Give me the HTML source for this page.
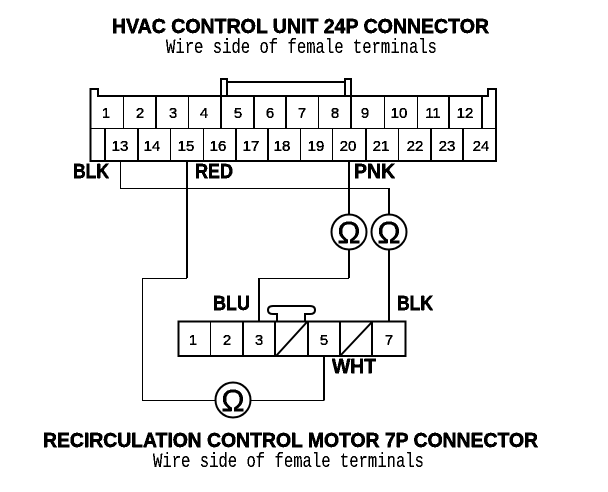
<!DOCTYPE html>
<html><head><meta charset="utf-8"><style>
html,body{margin:0;padding:0;background:#fff}
svg{display:block}
text{fill:#000}
.t{font:bold 20px "Liberation Sans",sans-serif;stroke:#000;stroke-width:.5px}
.s{font:20px "Liberation Mono",monospace}
.l{font:bold 20px "Liberation Sans",sans-serif;stroke:#000;stroke-width:.5px}
.n{font:15px "Liberation Sans",sans-serif;text-anchor:middle;stroke:#000;stroke-width:.25px}
.o{font:31px "Liberation Sans",sans-serif;text-anchor:middle;stroke:#000;stroke-width:.4px}
</style></head><body>
<svg width="608" height="492" viewBox="0 0 608 492" xmlns="http://www.w3.org/2000/svg">
<defs><filter id="b" x="0" y="0" width="100%" height="100%" color-interpolation-filters="sRGB"><feComponentTransfer><feFuncA type="discrete" tableValues="0 1 1"/></feComponentTransfer></filter></defs>
<rect width="608" height="492" fill="#fff"/>
<g filter="url(#b)">
<text class="t" x="112" y="33" textLength="377" lengthAdjust="spacingAndGlyphs">HVAC CONTROL UNIT 24P CONNECTOR</text>
<text class="s" x="166" y="53" textLength="271" lengthAdjust="spacingAndGlyphs">Wire side of female terminals</text>
<text class="t" x="43" y="447" textLength="495" lengthAdjust="spacingAndGlyphs">RECIRCULATION CONTROL MOTOR 7P CONNECTOR</text>
<text class="s" x="153" y="467" textLength="271" lengthAdjust="spacingAndGlyphs">Wire side of female terminals</text>
<text class="l" x="73" y="178" textLength="36" lengthAdjust="spacingAndGlyphs">BLK</text>
<text class="l" x="195" y="178" textLength="38" lengthAdjust="spacingAndGlyphs">RED</text>
<text class="l" x="354" y="178" textLength="41" lengthAdjust="spacingAndGlyphs">PNK</text>
<text class="l" x="213" y="310" textLength="37" lengthAdjust="spacingAndGlyphs">BLU</text>
<text class="l" x="397" y="310" textLength="36" lengthAdjust="spacingAndGlyphs">BLK</text>
<text class="l" x="332" y="373" textLength="44" lengthAdjust="spacingAndGlyphs">WHT</text>
<g class="nums">
<text class="n" x="106" y="118">1</text><text class="n" x="140" y="118">2</text><text class="n" x="173" y="118">3</text><text class="n" x="204" y="118">4</text><text class="n" x="238" y="118">5</text><text class="n" x="270" y="118">6</text><text class="n" x="302" y="118">7</text><text class="n" x="335" y="118">8</text><text class="n" x="365" y="118">9</text><text class="n" x="399" y="118">10</text><text class="n" x="433" y="118">11</text><text class="n" x="465" y="118">12</text>
<text class="n" x="120" y="151">13</text><text class="n" x="152" y="151">14</text><text class="n" x="186" y="151">15</text><text class="n" x="218" y="151">16</text><text class="n" x="251" y="151">17</text><text class="n" x="282" y="151">18</text><text class="n" x="316" y="151">19</text><text class="n" x="348" y="151">20</text><text class="n" x="381" y="151">21</text><text class="n" x="415" y="151">22</text><text class="n" x="447" y="151">23</text><text class="n" x="481" y="151">24</text>
<text class="n" x="193" y="345">1</text><text class="n" x="227" y="345">2</text><text class="n" x="259" y="345">3</text><text class="n" x="324" y="345">5</text><text class="n" x="389" y="345">7</text>
</g>
</g>
<g fill="none" stroke="#000" stroke-width="2" shape-rendering="crispEdges">
<path d="M98 96V89H90.5V161H496V89H488V96H98Z"/>
<path d="M221 96V79H227V96M227 82H345M345 96V79H351V96"/>
<path d="M156 96V128M221 96V128M254 96V128M286 96V128M351 96V128M449 96V128M482 96V128"/>
<path d="M105 128V161M138 128V161M236 128V161M268 128V161M366 128V161M431 128V161M463 128V161"/>
<path d="M187 161V278M349 161V214M349 250V278M389 188V214M389 250V322"/>
<path d="M259 322V278M178.500 321.500H405.500V356H178.500Z"/>
<path d="M243 321V356M275 321V356M308 321V356M340 321V356M372 321V356"/>
</g>
<g fill="none" stroke="#000" stroke-width="1" shape-rendering="crispEdges">
<path d="M91 128.500H496"/>
<path d="M123.500 96V128M188.500 96V128M318.500 96V128M384.500 96V128M417.500 96V128"/>
<path d="M170.500 128V161M203.500 128V161M300.500 128V161M332.500 128V161M398.500 128V161"/>
<path d="M120.500 161V188.500H389M187 278.500H142.500V400.500H215M251 400.500H324V356"/>
<path d="M349 278.500H259M210.500 321V356"/>
</g>
<path d="M324 356V400" stroke="#000" stroke-width="2" shape-rendering="crispEdges"/>
<path d="M276 356L307 322M340 356L372 322" stroke="#000" stroke-width="2" fill="none"/>
<path d="M277 321V314H273Q268 314 268 310Q268 306 273 306H310Q315 306 315 310Q315 314 310 314H305V321" fill="none" stroke="#000" stroke-width="2"/>
<g fill="#fff" stroke="#000" stroke-width="2">
<circle cx="349" cy="232" r="17.500"/><circle cx="389" cy="232" r="17.500"/><circle cx="233" cy="400" r="17.500"/>
</g>
<g filter="url(#b)">
<text class="o" x="349" y="243">Ω</text><text class="o" x="389" y="243">Ω</text><text class="o" x="233" y="411">Ω</text>
</g>
</svg>
</body></html>
